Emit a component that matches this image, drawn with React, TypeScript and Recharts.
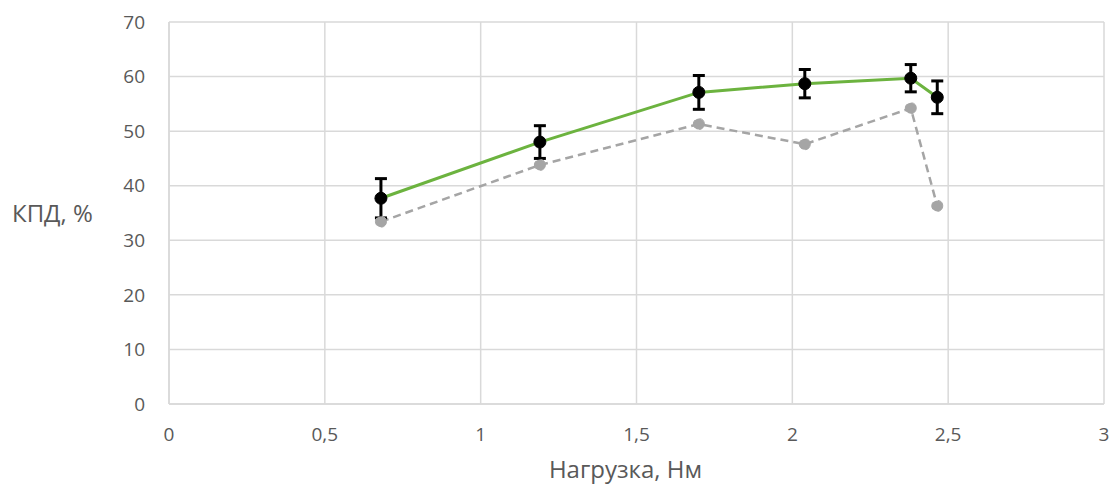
import React from 'react';
import { LineChart, Line, XAxis, YAxis, CartesianGrid, ErrorBar, Label } from 'recharts';

// Load, N·m
const loads = [0.68, 1.19, 1.7, 2.04, 2.38, 2.465];
// Measured efficiency, % (with spread)
const efficiency = [37.7, 48.0, 57.1, 58.7, 59.7, 56.2];
const efficiencyErr = [3.6, 3.0, 3.1, 2.6, 2.5, 3.0];
// Reference (dashed) efficiency, %
const reference = [33.4, 43.8, 51.3, 47.6, 54.2, 36.3];

const xTicks = [0, 0.5, 1, 1.5, 2, 2.5, 3];
const yTicks = [0, 10, 20, 30, 40, 50, 60, 70];

const data = loads.map((x, i) => ({
    x,
    eff: efficiency[i],
    err: efficiencyErr[i],
    ref: reference[i],
}));

const FONT = '"Open Sans", "Noto Sans", sans-serif';
const TEXT = '#595959';
const GRID = '#d9d9d9';

const App: React.FC = () => {
    return (
        <div style={{ position: 'absolute', left: 0, top: 0, background: '#fff' }}>
            <LineChart
                width={1113}
                height={487}
                data={data}
                margin={{ top: 22, right: 9, bottom: 0, left: 0 }}
                style={{ fontFamily: FONT }}
            >
                <CartesianGrid stroke={GRID} strokeWidth={1.5} />
                <XAxis
                    type="number"
                    dataKey="x"
                    domain={[0, 3]}
                    ticks={xTicks}
                    tickFormatter={(v: number) => String(v).replace('.', ',')}
                    height={83}
                    axisLine={{ stroke: GRID, strokeWidth: 1.5 }}
                    tickLine={false}
                    tickSize={0}
                    tickMargin={24}
                    tick={{ fill: TEXT, fontSize: 19 }}
                >
                    <Label
                        value="Нагрузка, Нм"
                        position="insideBottom"
                        offset={9}
                        dx={-11}
                        style={{ fill: TEXT, fontSize: 24 }}
                    />
                </XAxis>
                <YAxis
                    type="number"
                    domain={[0, 70]}
                    ticks={yTicks}
                    width={169}
                    axisLine={{ stroke: GRID, strokeWidth: 1.5 }}
                    tickLine={false}
                    tickSize={0}
                    tickMargin={24}
                    tick={{ fill: TEXT, fontSize: 19 }}
                >
                    <Label
                        value="КПД, %"
                        position="insideLeft"
                        offset={12}
                        style={{ fill: TEXT, fontSize: 24, textAnchor: 'start' }}
                    />
                </YAxis>

                {/* dashed reference curve */}
                <Line
                    dataKey="ref"
                    stroke="#a5a5a5"
                    strokeWidth={2.5}
                    strokeDasharray="8 5"
                    dot={{ r: 5.5, fill: '#a5a5a5', stroke: '#a5a5a5', strokeWidth: 1 }}
                    isAnimationActive={false}
                />

                {/* measured curve with error bars */}
                <Line
                    dataKey="eff"
                    stroke="#6cb33f"
                    strokeWidth={3}
                    dot={{ r: 6, fill: '#000', stroke: '#000', strokeWidth: 1 }}
                    isAnimationActive={false}
                >
                    <ErrorBar dataKey="err" direction="y" width={6} strokeWidth={3} stroke="#000" />
                </Line>
            </LineChart>
        </div>
    );
};

export default App;
